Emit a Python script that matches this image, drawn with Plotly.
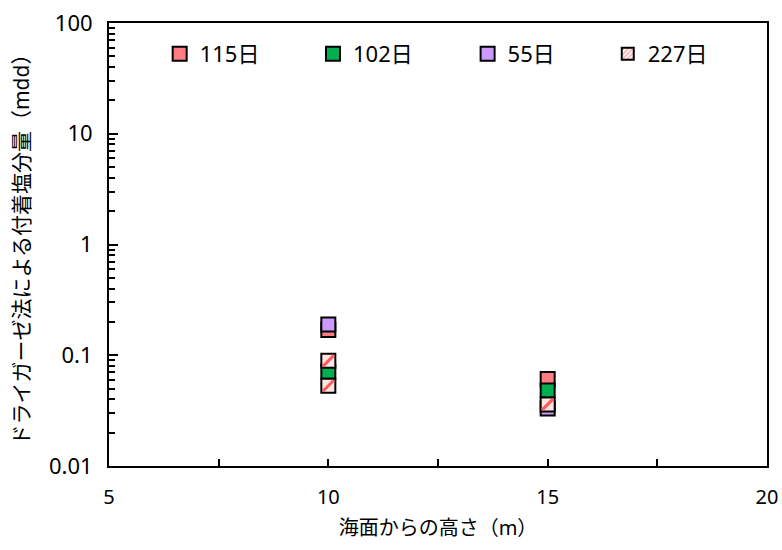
import plotly.graph_objects as go

# Data
series_names = ["115日", "102日", "55日", "227日"]
x_115 = [10, 15]
y_115 = [0.169, 0.061]
x_102 = [10, 15]
y_102 = [0.071, 0.048]
x_55 = [10, 15]
y_55 = [0.19, 0.033]
x_227 = [10, 10, 15]
y_227 = [0.089, 0.053, 0.036]

colors = ["#ff7c80", "#00b050", "#cc99ff", "#ffe4e4"]
hatch_color = "#ff5a5a"

x_tickvals = [5, 10, 15, 20]
y_tickvals = [0.01, 0.1, 1, 10, 100]
y_ticktext = ["0.01", "0.1", "1", "10", "100"]
y_minor_vals = [m * 10 ** e for e in range(-2, 2) for m in range(2, 10)]

FONT = "Noto Sans, Noto Sans CJK JP, sans-serif"
MS = 14

fig = go.Figure()
xs = [x_115, x_102, x_55, x_227]
ys = [y_115, y_102, y_55, y_227]
legends = ["legend", "legend2", "legend3", "legend4"]
for i in range(4):
    fig.add_trace(go.Scatter(
        x=xs[i], y=ys[i], mode="markers", name=series_names[i],
        legend=legends[i], legendgroup=series_names[i],
        showlegend=(i < 3),
        marker=dict(symbol="square", size=MS, color=colors[i],
                    line=dict(color="black", width=2)),
    ))
# hatch overlay for 227日
fig.add_trace(go.Scatter(
    x=x_227, y=y_227, mode="markers", showlegend=False,
    legendgroup=series_names[3], hoverinfo="skip",
    marker=dict(symbol="line-ne", size=MS - 3, color=hatch_color,
                line=dict(color=hatch_color, width=3)),
))
# legend entry with hatch pattern for 227日
fig.add_trace(go.Bar(
    x=[None], y=[None], name=series_names[3], legend="legend4",
    legendgroup=series_names[3],
    marker=dict(color="white", line=dict(color="black", width=2),
                pattern=dict(shape="/", fgcolor=hatch_color, bgcolor="white",
                             size=4, solidity=0.5)),
))

leg_x = [0.077, 0.310, 0.545, 0.758]
layout_legends = {}
for i, key in enumerate(legends):
    layout_legends[key] = dict(
        x=leg_x[i], y=0.93, xanchor="left", yanchor="middle",
        bgcolor="rgba(0,0,0,0)", font=dict(family=FONT, size=22, color="black"),
        itemwidth=30, tracegroupgap=0,
    )

fig.update_layout(
    width=782, height=550,
    margin=dict(l=109, r=15, t=23, b=84, autoexpand=False),
    paper_bgcolor="white", plot_bgcolor="white",
    font=dict(family=FONT, size=20, color="black"),
    **layout_legends,
)

fig.update_xaxes(
    range=[5, 20], tickvals=x_tickvals, ticks="inside", ticklen=7,
    tickwidth=1.5, tickcolor="black", ticklabelstandoff=12,
    minor=dict(dtick=2.5, ticks="inside", ticklen=7, tickwidth=1.5, tickcolor="black"),
    showline=True, linecolor="black", linewidth=2, mirror=True,
    showgrid=False, zeroline=False, automargin=False,
    tickfont=dict(family=FONT, size=20),
    title=dict(text="海面からの高さ（m）", font=dict(family=FONT, size=20), standoff=12),
)
fig.update_yaxes(
    type="log", range=[-2, 2], tickvals=y_tickvals, ticktext=y_ticktext,
    ticks="inside", ticklen=9, tickwidth=1.5, tickcolor="black", ticklabelstandoff=10,
    minor=dict(tickvals=y_minor_vals, ticks="inside", ticklen=6, tickwidth=1.5,
               tickcolor="black", showgrid=False),
    showline=True, linecolor="black", linewidth=2, mirror=True,
    showgrid=False, zeroline=False, automargin=False,
    tickfont=dict(family=FONT, size=22),
    title=dict(text="ドライガーゼ法による付着塩分量（mdd）", font=dict(family=FONT, size=21), standoff=14),
)

fig.write_html("out.html", post_script="document.body.style.margin='0';",
               config={"displayModeBar": False})
